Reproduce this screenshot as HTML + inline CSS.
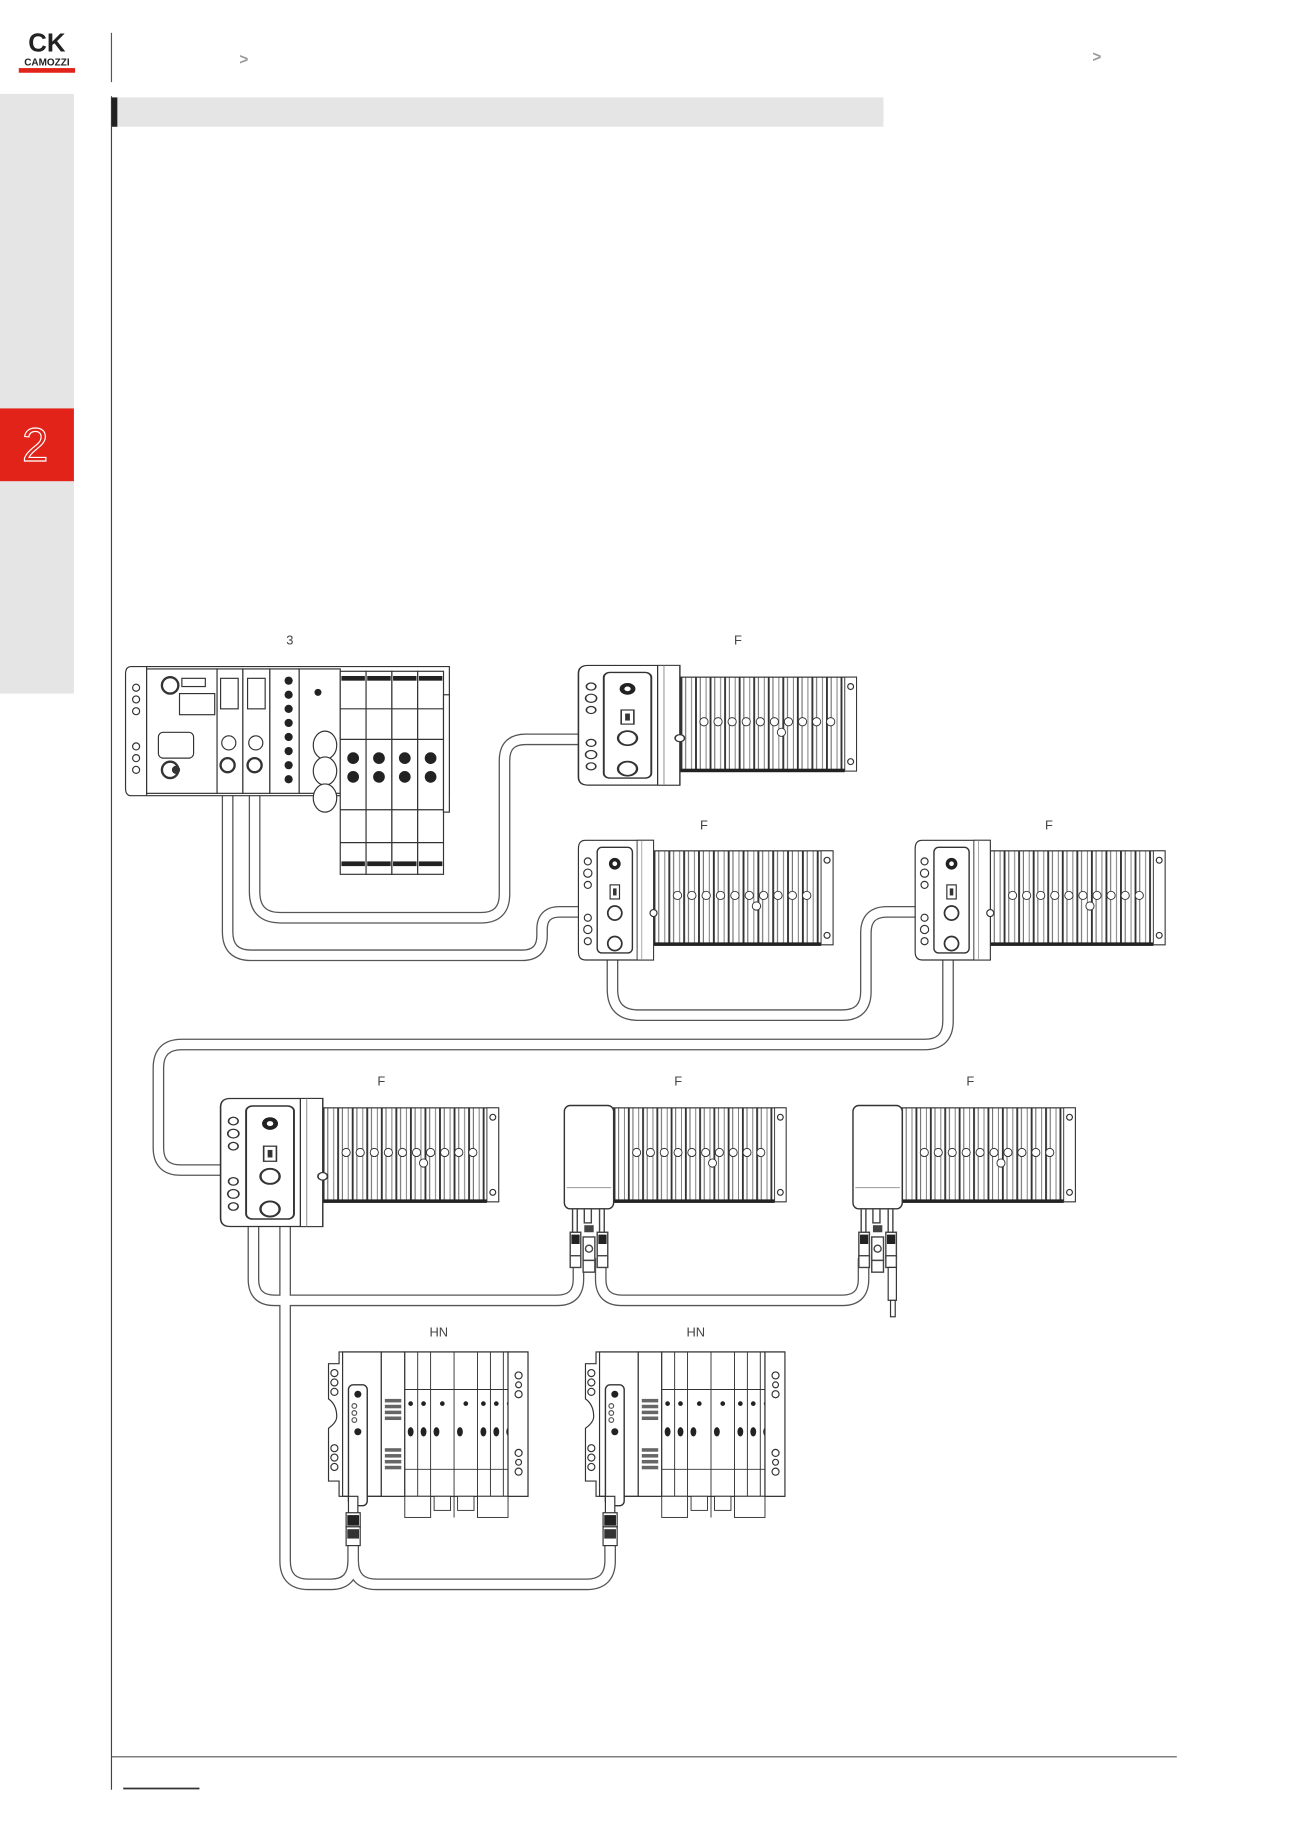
<!DOCTYPE html>
<html><head><meta charset="utf-8"><style>
html,body{margin:0;padding:0;background:#fff;}
body{width:1300px;height:1839px;overflow:hidden;position:relative;font-family:"Liberation Sans",sans-serif;}
</style></head><body>
<svg width="1300" height="1839" viewBox="0 0 1108 1567" preserveAspectRatio="none" xmlns="http://www.w3.org/2000/svg" style="position:absolute;left:0;top:0">
<defs>
<pattern id="fin" x="0" y="0" width="12.4" height="200" patternUnits="userSpaceOnUse">
<rect x="0" y="0" width="12.4" height="200" fill="#fff"/>
<rect x="0" y="0" width="1.6" height="200" fill="#333"/>
<rect x="4" y="0" width="0.8" height="200" fill="#555"/>
<rect x="9" y="0" width="0.8" height="200" fill="#777"/>
</pattern>
<g id="fins">
<rect x="0" y="0" width="150" height="80" fill="url(#fin)" stroke="#333" stroke-width="1"/>
<rect x="0" y="78" width="140" height="3" fill="#222"/>
<rect x="140" y="0" width="10" height="80" fill="#fff" stroke="#333" stroke-width="0.8"/>
<circle cx="145" cy="8" r="2.5" fill="none" stroke="#333"/>
<circle cx="145" cy="72" r="2.5" fill="none" stroke="#333"/>
<g fill="#fff" stroke="#333" stroke-width="0.8">
<circle cx="20" cy="38" r="3.5"/><circle cx="32" cy="38" r="3.5"/><circle cx="44" cy="38" r="3.5"/><circle cx="56" cy="38" r="3.5"/><circle cx="68" cy="38" r="3.5"/><circle cx="80" cy="38" r="3.5"/><circle cx="92" cy="38" r="3.5"/><circle cx="104" cy="38" r="3.5"/><circle cx="116" cy="38" r="3.5"/><circle cx="128" cy="38" r="3.5"/><circle cx="86" cy="47" r="3.5"/>
</g>
</g>
<g id="fhead">
<path d="M6 0 H64 V102 H6 Q0 102 0 95 V7 Q0 0 6 0 Z" fill="#fff" stroke="#333" stroke-width="1"/>
<rect x="16" y="6" width="30" height="90" rx="4" fill="#fff" stroke="#333" stroke-width="1.2"/>
<g fill="#fff" stroke="#333" stroke-width="1"><circle cx="8" cy="18" r="3"/><circle cx="8" cy="28" r="3.5"/><circle cx="8" cy="38" r="3"/><circle cx="8" cy="66" r="3"/><circle cx="8" cy="76" r="3.5"/><circle cx="8" cy="86" r="3"/></g>
<circle cx="31" cy="20" r="5" fill="#222"/><circle cx="31" cy="20" r="2" fill="#fff"/>
<rect x="27" y="38" width="8" height="12" fill="#fff" stroke="#333"/>
<rect x="29.5" y="41" width="3" height="6" fill="#333"/>
<circle cx="31" cy="62" r="6" fill="#fff" stroke="#333" stroke-width="1.5"/>
<circle cx="31" cy="88" r="6" fill="#fff" stroke="#333" stroke-width="1.5"/>
<rect x="50" y="0" width="14" height="102" fill="#fff" stroke="#333" stroke-width="0.8"/>
<line x1="54" y1="0" x2="54" y2="102" stroke="#888" stroke-width="0.6"/>
<circle cx="64" cy="62" r="3" fill="#fff" stroke="#333"/>
</g>
<g id="cbox">
<rect x="0" y="0" width="42" height="88" rx="5" fill="#fff" stroke="#333" stroke-width="1.2"/>
<line x1="2" y1="70" x2="40" y2="70" stroke="#888" stroke-width="0.7"/>
<g stroke="#444" stroke-width="1.2" fill="#fff">
<rect x="7" y="88" width="4" height="24"/><rect x="30" y="88" width="4" height="24"/><rect x="17" y="88" width="6" height="12"/>
<rect x="5" y="108" width="9" height="22"/><rect x="16" y="112" width="10" height="20"/><rect x="28" y="108" width="9" height="22"/>
<rect x="5" y="128" width="9" height="10"/><rect x="16" y="132" width="10" height="10"/><rect x="28" y="128" width="9" height="10"/>
<circle cx="21" cy="122" r="3"/>
</g>
<rect x="6" y="110" width="7" height="8" fill="#222"/><rect x="29" y="110" width="7" height="8" fill="#222"/><rect x="17" y="102" width="8" height="6" fill="#444"/>
</g>
<g id="hn">
<path d="M12 0 H173 V123 H12 V110 H3 V65 Q10 60 10 55 Q10 45 3 40 V10 H12 Z" fill="#fff" stroke="#333" stroke-width="1"/>
<g fill="#fff" stroke="#333" stroke-width="1"><circle cx="8" cy="18" r="3"/><circle cx="8" cy="26" r="3"/><circle cx="8" cy="34" r="3"/><circle cx="8" cy="82" r="3"/><circle cx="8" cy="90" r="3"/><circle cx="8" cy="98" r="3"/></g>
<rect x="15" y="0" width="33" height="123" fill="none" stroke="#333"/>
<rect x="20" y="28" width="16" height="103" rx="4" fill="#fff" stroke="#333" stroke-width="1.2"/>
<circle cx="28" cy="36" r="3" fill="#222"/><circle cx="28" cy="68" r="3" fill="#222"/>
<g fill="none" stroke="#555"><circle cx="25" cy="46" r="2"/><circle cx="25" cy="52" r="2"/><circle cx="25" cy="58" r="2"/></g>
<rect x="48" y="0" width="20" height="123" fill="#fff" stroke="#333"/>
<g fill="#666"><rect x="51" y="40" width="14" height="3"/><rect x="51" y="45" width="14" height="3"/><rect x="51" y="50" width="14" height="3"/><rect x="51" y="55" width="14" height="3"/><rect x="51" y="82" width="14" height="3"/><rect x="51" y="87" width="14" height="3"/><rect x="51" y="92" width="14" height="3"/><rect x="51" y="97" width="14" height="3"/></g>
<rect x="68" y="0" width="88" height="123" fill="#fff" stroke="#333"/>
<line x1="68" y1="32" x2="156" y2="32" stroke="#333" stroke-width="0.8"/>
<line x1="68" y1="100" x2="156" y2="100" stroke="#333" stroke-width="0.8"/>
<g stroke="#333" stroke-width="0.8"><line x1="79" y1="0" x2="79" y2="141"/><line x1="90" y1="0" x2="90" y2="141"/><line x1="110" y1="0" x2="110" y2="141"/><line x1="130" y1="0" x2="130" y2="141"/><line x1="141" y1="0" x2="141" y2="141"/><line x1="152" y1="0" x2="152" y2="141"/></g>
<g fill="#222"><circle cx="73" cy="44" r="2"/><circle cx="84" cy="44" r="2"/><circle cx="100" cy="44" r="2"/><circle cx="120" cy="44" r="2"/><circle cx="135" cy="44" r="2"/><circle cx="146" cy="44" r="2"/><circle cx="157" cy="44" r="2"/>
<ellipse cx="73" cy="68" rx="2.5" ry="4"/><ellipse cx="84" cy="68" rx="2.5" ry="4"/><ellipse cx="95" cy="68" rx="2.5" ry="4"/><ellipse cx="115" cy="68" rx="2.5" ry="4"/><ellipse cx="135" cy="68" rx="2.5" ry="4"/><ellipse cx="146" cy="68" rx="2.5" ry="4"/><ellipse cx="157" cy="68" rx="2.5" ry="4"/></g>
<g fill="#fff" stroke="#333" stroke-width="0.8"><rect x="68" y="123" width="22" height="18"/><rect x="93" y="123" width="14" height="12"/><rect x="113" y="123" width="14" height="12"/><rect x="130" y="123" width="26" height="18"/></g>
<rect x="156" y="0" width="17" height="123" fill="#fff" stroke="#333"/>
<g fill="#fff" stroke="#333"><circle cx="165" cy="20" r="3"/><circle cx="165" cy="28" r="2.5"/><circle cx="165" cy="36" r="3"/><circle cx="165" cy="86" r="3"/><circle cx="165" cy="94" r="2.5"/><circle cx="165" cy="102" r="3"/></g>
</g>
<g id="hplug">
<g fill="#fff" stroke="#333" stroke-width="1"><rect x="-4" y="0" width="8" height="16"/><rect x="-6" y="14" width="12" height="12"/><rect x="-6" y="26" width="12" height="16"/></g>
<rect x="-5" y="16" width="10" height="9" fill="#222"/><rect x="-5" y="28" width="10" height="8" fill="#333"/>
</g>
</defs>

<!-- page chrome -->
<rect x="0" y="80" width="63" height="511" fill="#e5e5e5"/>
<rect x="0" y="348" width="63" height="62" fill="#e2231a"/>
<text x="30" y="393" font-size="40" font-family="Liberation Sans,sans-serif" fill="none" stroke="#fff" stroke-width="1" text-anchor="middle">2</text>
<line x1="95" y1="28" x2="95" y2="70" stroke="#555" stroke-width="1"/>
<line x1="95" y1="82" x2="95" y2="1525" stroke="#444" stroke-width="1"/>
<rect x="95" y="83" width="658" height="25" fill="#e5e5e5"/>
<rect x="95" y="83" width="5" height="25" fill="#222"/>
<text x="204" y="55" font-size="13" fill="#999" font-weight="bold">&gt;</text>
<text x="931" y="53" font-size="13" fill="#999" font-weight="bold">&gt;</text>
<!-- logo -->
<text x="40" y="44" font-size="22" font-weight="bold" fill="#222" text-anchor="middle" font-family="Liberation Sans,sans-serif">CK</text>
<text x="40" y="56" font-size="8.5" font-weight="bold" fill="#222" text-anchor="middle" font-family="Liberation Sans,sans-serif">CAMOZZI</text>
<rect x="16" y="58" width="48" height="4" fill="#e2231a"/>
<line x1="95" y1="1497" x2="1003" y2="1497" stroke="#555" stroke-width="1"/>
<line x1="105" y1="1524" x2="170" y2="1524" stroke="#333" stroke-width="1.5"/>

<!-- labels -->
<g font-size="11" fill="#444" text-anchor="middle" font-family="Liberation Sans,sans-serif">
<text x="247" y="549">3</text><text x="629" y="549">F</text><text x="600" y="707">F</text><text x="894" y="707">F</text>
<text x="325" y="925">F</text><text x="578" y="925">F</text><text x="827" y="925">F</text>
<text x="374" y="1139">HN</text><text x="593" y="1139">HN</text>
</g>

<!-- cables -->
<g fill="none" stroke-linejoin="round">
<g stroke="#555" stroke-width="10">
<path d="M217 655 V760 Q217 782 239 782 H410 Q430 782 430 762 V648 Q430 630 448 630 H518"/>
<path d="M194 655 V794 Q194 814 214 814 H445 Q462 814 462 797 V792 Q462 777 477 777 H518"/>
<path d="M522 812 V843 Q522 865 544 865 H718 Q738 865 738 845 V795 Q738 777 756 777 H808"/>
<path d="M808 812 V870 Q808 890 788 890 H155 Q135 890 135 910 V978 Q135 997 154 997 H215"/>
<path d="M216 1025 V1090 Q216 1108 234 1108 H475 Q493 1108 493 1090 V1072"/>
<path d="M512 1072 V1090 Q512 1108 530 1108 H718 Q736 1108 736 1090 V1072"/>
<path d="M243 1025 V1330 Q243 1350 263 1350 H282 Q301 1350 301 1330 V1290"/>
<path d="M301 1330 Q301 1350 321 1350 H500 Q520 1350 520 1330 V1290"/>
</g>
<g stroke="#fff" stroke-width="7.8">
<path d="M217 655 V760 Q217 782 239 782 H410 Q430 782 430 762 V648 Q430 630 448 630 H518"/>
<path d="M194 655 V794 Q194 814 214 814 H445 Q462 814 462 797 V792 Q462 777 477 777 H518"/>
<path d="M522 812 V843 Q522 865 544 865 H718 Q738 865 738 845 V795 Q738 777 756 777 H808"/>
<path d="M808 812 V870 Q808 890 788 890 H155 Q135 890 135 910 V978 Q135 997 154 997 H215"/>
<path d="M216 1025 V1090 Q216 1108 234 1108 H475 Q493 1108 493 1090 V1072"/>
<path d="M512 1072 V1090 Q512 1108 530 1108 H718 Q736 1108 736 1090 V1072"/>
<path d="M243 1025 V1330 Q243 1350 263 1350 H282 Q301 1350 301 1330 V1290"/>
<path d="M301 1330 Q301 1350 321 1350 H500 Q520 1350 520 1330 V1290"/>
</g>
</g>

<!-- main module 3 -->
<g stroke="#333" stroke-width="1" fill="#fff">
<path d="M112 568 H383 V678 H112 Q107 678 107 672 V574 Q107 568 112 568 Z"/>
<line x1="125" y1="568" x2="125" y2="678"/>
<rect x="125" y="570" width="60" height="106"/>
<rect x="185" y="570" width="22" height="106"/><rect x="207" y="570" width="23" height="106"/>
<rect x="230" y="570" width="25" height="106"/>
<rect x="255" y="570" width="35" height="106"/>
<g fill="#fff"><circle cx="116" cy="586" r="3"/><circle cx="116" cy="596" r="3"/><circle cx="116" cy="606" r="3"/><circle cx="116" cy="636" r="3"/><circle cx="116" cy="646" r="3"/><circle cx="116" cy="656" r="3"/></g>
<circle cx="145" cy="584" r="7" stroke-width="2"/><circle cx="145" cy="656" r="7" stroke-width="2"/>
<rect x="155" y="578" width="20" height="7"/>
<rect x="153" y="591" width="30" height="18"/>
<rect x="135" y="624" width="30" height="22" rx="4"/>
<rect x="188" y="578" width="15" height="26"/><rect x="211" y="578" width="15" height="26"/>
<circle cx="195" cy="633" r="6"/><circle cx="218" cy="633" r="6"/>
<circle cx="194" cy="652" r="6" stroke-width="2"/><circle cx="217" cy="652" r="6" stroke-width="2"/>
<ellipse cx="277" cy="635" rx="10" ry="12"/><ellipse cx="277" cy="657" rx="10" ry="12"/><ellipse cx="277" cy="680" rx="10" ry="12"/>
<rect x="290" y="572" width="22" height="173"/><rect x="312" y="572" width="22" height="173"/><rect x="334" y="572" width="22" height="173"/><rect x="356" y="572" width="22" height="173"/>
<rect x="378" y="592" width="5" height="100"/>
<line x1="290" y1="604" x2="378" y2="604"/><line x1="290" y1="630" x2="378" y2="630"/><line x1="290" y1="690" x2="378" y2="690"/><line x1="290" y1="718" x2="378" y2="718"/>
</g>
<circle cx="150" cy="656" r="3.5" fill="#333"/>
<g fill="#222"><circle cx="246" cy="580" r="3.5"/><circle cx="246" cy="592" r="3.5"/><circle cx="246" cy="604" r="3.5"/><circle cx="246" cy="616" r="3.5"/><circle cx="246" cy="628" r="3.5"/><circle cx="246" cy="640" r="3.5"/><circle cx="246" cy="652" r="3.5"/><circle cx="246" cy="664" r="3.5"/><circle cx="271" cy="590" r="3"/>
<circle cx="301" cy="646" r="5"/><circle cx="323" cy="646" r="5"/><circle cx="345" cy="646" r="5"/><circle cx="367" cy="646" r="5"/>
<circle cx="301" cy="662" r="5"/><circle cx="323" cy="662" r="5"/><circle cx="345" cy="662" r="5"/><circle cx="367" cy="662" r="5"/>
<rect x="291" y="576" width="20" height="4"/><rect x="313" y="576" width="20" height="4"/><rect x="335" y="576" width="20" height="4"/><rect x="357" y="576" width="20" height="4"/>
<rect x="291" y="734" width="20" height="4"/><rect x="313" y="734" width="20" height="4"/><rect x="335" y="734" width="20" height="4"/><rect x="357" y="734" width="20" height="4"/></g>

<!-- F modules -->
<use href="#fins" x="580" y="577"/>
<use href="#fhead" transform="translate(493,567) scale(1.35,1)"/>
<use href="#fins" transform="translate(557,725) scale(1.02,1)"/>
<use href="#fhead" x="493" y="716"/>
<use href="#fins" x="843" y="725"/>
<use href="#fhead" x="780" y="716"/>
<use href="#fins" x="275" y="944"/>
<use href="#fhead" transform="translate(188,936) scale(1.36,1.07)"/>
<use href="#fins" transform="translate(523,944) scale(0.98,1)"/>
<use href="#cbox" x="481" y="942"/>
<use href="#fins" transform="translate(768,944) scale(0.99,1)"/>
<use href="#cbox" x="727" y="942"/>
<g stroke="#333" fill="#fff"><rect x="757" y="1080" width="7" height="28"/><rect x="759" y="1108" width="4" height="14"/></g>

<!-- HN modules -->
<use href="#hn" x="277" y="1152"/>
<use href="#hn" x="496" y="1152"/>
<use href="#hplug" x="301" y="1275"/>
<use href="#hplug" x="520" y="1275"/>
</svg>
</body></html>
